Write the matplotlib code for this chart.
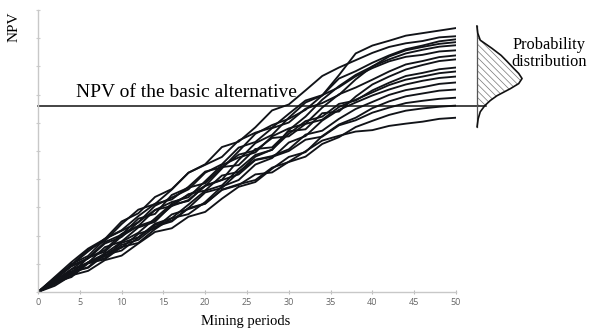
import matplotlib
matplotlib.use("Agg")
import matplotlib.pyplot as plt

periods = [0, 2, 4, 6, 8, 10, 12, 14, 16, 18, 20, 22, 24, 26, 28, 30, 32, 34, 36, 38, 40, 42, 44, 46, 48, 50]

npv_paths = [
    [0, .36, .73, 1.05, 1.36, 1.78, 2.10, 2.61, 3.13, 3.44, 3.76, 4.38, 4.99, 5.61, 5.92, 6.14, 6.46, 6.97, 7.69, 8.46, 8.74, 8.91, 9.09, 9.18, 9.27, 9.36],
    [0, .50, .96, 1.51, 1.81, 2.41, 2.92, 3.12, 3.63, 4.23, 4.53, 5.14, 5.33, 5.84, 6.44, 6.65, 7.15, 7.66, 7.96, 8.22, 8.48, 8.69, 8.82, 8.90, 9.03, 9.07],
    [0, .29, .80, 1.04, 1.59, 1.79, 2.29, 2.49, 3.09, 3.23, 3.78, 3.98, 4.68, 5.28, 5.57, 6.18, 6.72, 6.97, 7.57, 7.83, 8.13, 8.39, 8.61, 8.74, 8.89, 8.96],
    [0, .44, .99, 1.28, 1.88, 2.17, 2.47, 3.06, 3.35, 3.64, 4.23, 4.53, 5.12, 5.32, 5.81, 6.01, 6.50, 6.70, 6.99, 7.54, 8.00, 8.35, 8.57, 8.69, 8.80, 8.86],
    [0, .29, .58, 1.06, 1.26, 1.74, 1.94, 2.42, 2.62, 3.10, 3.59, 3.78, 4.36, 4.86, 5.04, 5.74, 6.22, 6.82, 7.30, 7.70, 8.00, 8.25, 8.46, 8.59, 8.70, 8.75],
    [0, .53, 1.06, 1.54, 1.88, 2.50, 2.79, 3.37, 3.65, 4.23, 4.51, 4.79, 5.37, 5.65, 5.83, 6.32, 6.79, 6.98, 7.26, 7.65, 7.94, 8.18, 8.34, 8.41, 8.53, 8.57],
    [0, .37, .65, 1.22, 1.49, 2.06, 2.34, 2.91, 3.19, 3.36, 3.93, 4.50, 4.77, 4.95, 5.52, 5.80, 5.97, 6.54, 7.01, 7.25, 7.53, 7.82, 8.07, 8.19, 8.33, 8.39],
    [0, .46, .93, 1.20, 1.77, 2.03, 2.60, 2.77, 3.44, 3.70, 3.86, 4.43, 4.50, 5.07, 5.13, 5.70, 5.77, 6.34, 6.40, 6.93, 7.36, 7.64, 7.89, 8.05, 8.19, 8.25],
    [0, .30, .71, .86, 1.32, 1.47, 1.93, 2.38, 2.53, 2.98, 3.53, 3.69, 4.24, 4.80, 5.05, 5.61, 6.06, 6.22, 6.67, 6.79, 7.15, 7.42, 7.66, 7.77, 7.90, 7.96],
    [0, .49, .95, 1.44, 1.89, 2.19, 2.69, 3.13, 3.28, 3.73, 4.27, 4.42, 4.87, 5.02, 5.46, 5.52, 5.96, 6.11, 6.56, 6.82, 7.08, 7.34, 7.53, 7.64, 7.76, 7.82],
    [0, .34, .53, 1.02, 1.16, 1.60, 1.74, 2.23, 2.62, 2.76, 3.19, 3.74, 3.97, 4.52, 4.75, 5.30, 5.53, 6.08, 6.46, 6.72, 6.97, 7.18, 7.36, 7.49, 7.59, 7.64],
    [0, .43, .91, 1.19, 1.72, 1.95, 2.48, 2.91, 3.05, 3.47, 3.60, 4.13, 4.26, 4.69, 4.82, 5.06, 5.58, 5.72, 6.14, 6.49, 6.74, 6.99, 7.16, 7.26, 7.38, 7.43],
    [0, .22, .59, .75, 1.13, 1.29, 1.72, 2.13, 2.26, 2.67, 2.84, 3.31, 3.73, 3.90, 4.37, 4.79, 4.96, 5.53, 5.94, 6.18, 6.52, 6.76, 6.94, 7.04, 7.14, 7.18],
    [0, .40, .81, 1.22, 1.43, 1.98, 2.34, 2.54, 3.05, 3.26, 3.76, 3.97, 4.17, 4.68, 4.79, 5.00, 5.40, 5.51, 5.91, 6.09, 6.36, 6.54, 6.70, 6.78, 6.85, 6.89],
    [0, .29, .69, .88, 1.38, 1.57, 2.06, 2.26, 2.75, 2.94, 3.13, 3.63, 3.82, 3.97, 4.41, 4.61, 4.80, 5.25, 5.49, 5.85, 6.07, 6.28, 6.43, 6.51, 6.57, 6.61],
    [0, .32, .65, 1.02, 1.20, 1.67, 1.85, 2.32, 2.50, 2.97, 3.14, 3.62, 3.79, 4.17, 4.24, 4.62, 4.99, 5.37, 5.54, 5.69, 5.74, 5.89, 5.97, 6.04, 6.14, 6.18],
]

basic_npv = 6.61

# probability distribution: NPV level and density width (drawn sideways)
dist_npv = [9.43, 9.18, 8.93, 8.64, 8.39, 8.18, 7.93, 7.75, 7.57, 7.39, 7.21, 6.96, 6.79, 6.61, 6.39, 6.14, 5.86]
dist_density = [0.0, 0.1, 0.4, 1.8, 2.9, 3.6, 4.4, 5.0, 5.4, 5.0, 4.0, 2.4, 1.6, 0.95, 0.4, 0.15, 0.02]

x_ticks = [0, 5, 10, 15, 20, 25, 30, 35, 40, 45, 50]
y_ticks = [0, 1, 2, 3, 4, 5, 6, 7, 8, 9, 10]

serif = ["Liberation Serif", "DejaVu Serif"]

fig = plt.figure(figsize=(5.96, 3.34), dpi=100)
ax = fig.add_axes([38 / 596, 42 / 334, 418 / 596, 282 / 334])

for path in npv_paths:
    ax.plot(periods, path, color="#111318", lw=1.35, solid_joinstyle="miter")

ax.set_xlim(0, 50)
ax.set_ylim(0, 10)
ax.set_xticks(x_ticks)
ax.set_yticks(y_ticks)
ax.set_yticklabels([])
ax.tick_params(axis="x", colors="#bbbbbb", labelcolor="#666666", labelsize=6.5,
               length=3, width=0.8, direction="inout", pad=3)
ax.tick_params(axis="y", colors="#cccccc", length=3, width=0.8, direction="inout")
for lab in ax.get_xticklabels():
    lab.set_family(["Open Sans", "DejaVu Sans"])
for s in ["top", "right"]:
    ax.spines[s].set_visible(False)
for s in ["left", "bottom"]:
    ax.spines[s].set_color("#c8c8c8")
    ax.spines[s].set_linewidth(1.0)

# basic alternative line
dist_x0 = 52.5
ax.plot([0, 53.6], [basic_npv, basic_npv], color="#111111", lw=1.1, clip_on=False)
ax.text(4.6, 7.08, "NPV of the basic alternative", family=serif, fontsize=14,
        ha="left", va="center")

# distribution
ax.plot([dist_x0, dist_x0], [dist_npv[0], dist_npv[-1]], color="#555555", lw=0.9, clip_on=False)
cx = [dist_x0 + d for d in dist_density]
ax.plot(cx, dist_npv, color="#111111", lw=1.2, clip_on=False)
hy = [v for v in dist_npv if v >= basic_npv]
hx = [dist_x0 + d for v, d in zip(dist_npv, dist_density) if v >= basic_npv]
plt.rcParams["hatch.color"] = "#777777"
plt.rcParams["hatch.linewidth"] = 0.5
ax.fill_betweenx(hy, dist_x0, hx, facecolor="none", edgecolor="#777777",
                 hatch="\\\\\\\\\\", lw=0, clip_on=False)

fig.text(549 / 596, 1 - 45 / 334, "Probability", family=serif, fontsize=11.8,
         ha="center", va="center")
fig.text(549 / 596, 1 - 62 / 334, "distribution", family=serif, fontsize=11.8,
         ha="center", va="center")

fig.text(14 / 596, 1 - 27 / 334, "NPV", family=serif, fontsize=11, rotation=90,
         ha="center", va="center")
fig.text(246 / 596, 1 - 322 / 334, "Mining periods", family=serif, fontsize=10.5,
         ha="center", va="center")

fig.savefig("out.png", dpi=100)
